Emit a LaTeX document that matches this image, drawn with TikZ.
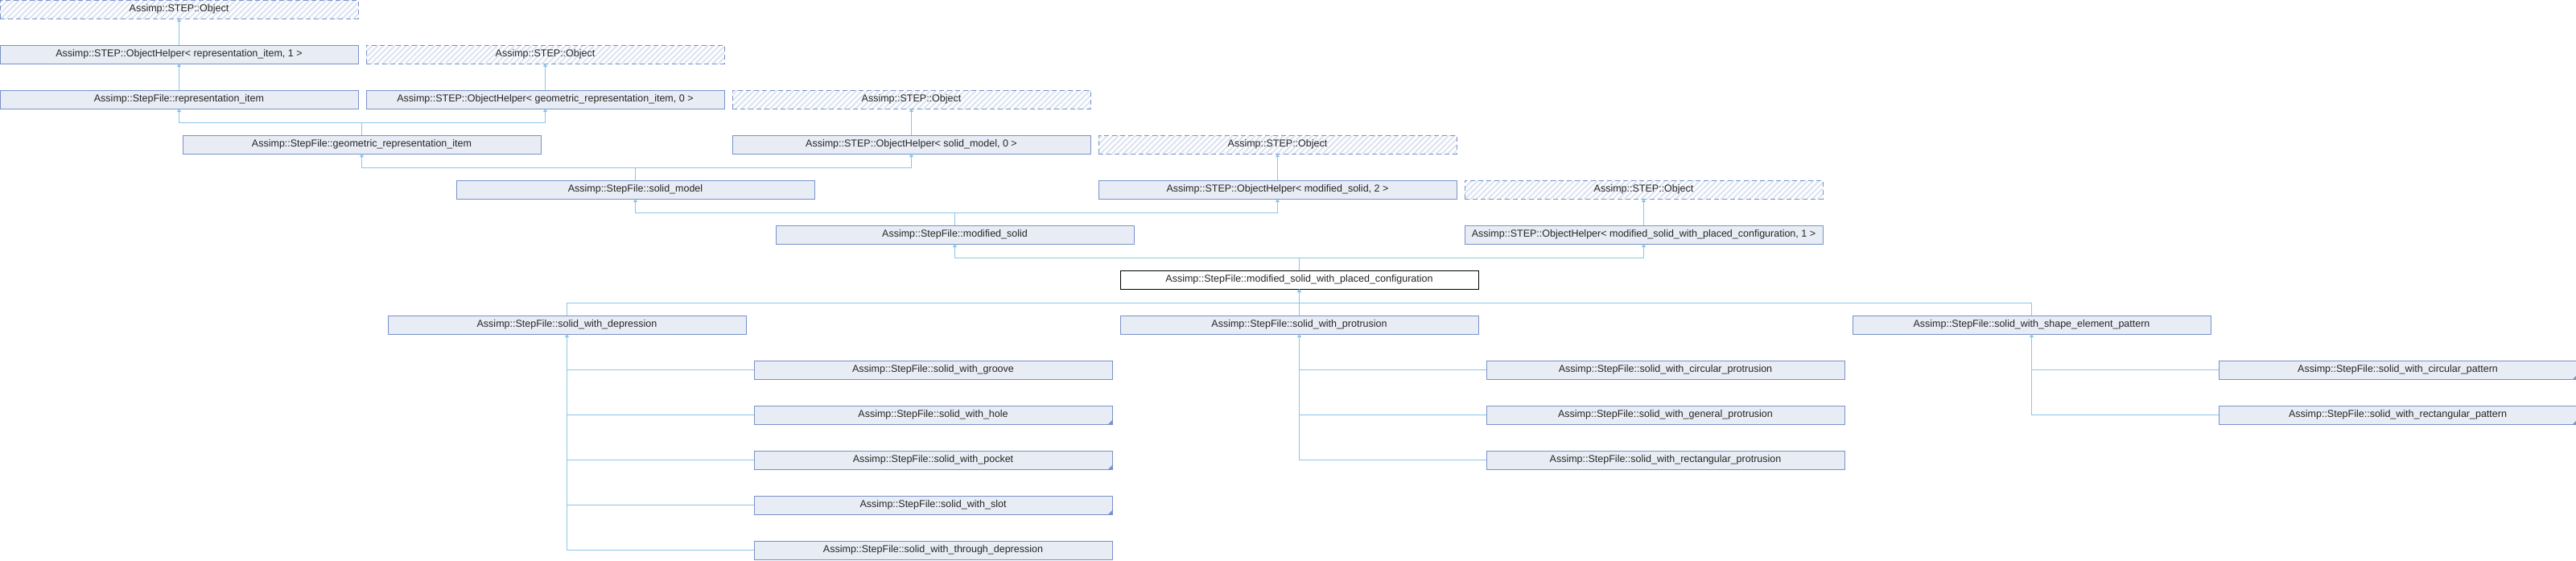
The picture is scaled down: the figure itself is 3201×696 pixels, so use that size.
\documentclass[tikz,border=0pt]{standalone}
\usepackage{fontspec}
\setmainfont{Liberation Sans}
\usetikzlibrary{arrows.meta,patterns.meta}
\definecolor{fillc}{RGB}{232,236,244}
\definecolor{bordc}{RGB}{122,146,202}
\definecolor{linec}{RGB}{140,198,232}
\definecolor{hatchc}{RGB}{222,228,241}
\newcommand\dfont{\fontsize{12.5}{14}\selectfont}
\tikzset{
  cls/.style={draw=bordc, fill=fillc, line width=1pt, minimum width=445pt, minimum height=23pt,
    inner sep=0pt, outer sep=0pt, anchor=north west, font=\dfont, text=black!85},
  mainbox/.style={cls, draw=black, fill=white},
  extbox/.style={draw=bordc, line width=1pt, minimum width=445pt, minimum height=23pt,
    inner sep=0pt, outer sep=0pt, anchor=north west, font=\dfont, text=black!85,
    dash pattern=on 6pt off 4pt,
    pattern={Lines[angle=45,distance=5pt,line width=2.2pt]}, pattern color=hatchc},
  conn/.style={draw=linec, line width=1pt},
  edge/.style={conn, {Triangle[width=5pt,length=4pt]}-},
  more/.style={fill=bordc}
}
\begin{document}
\begin{tikzpicture}[x=1pt,y=-1pt]
\useasboundingbox (0,0) rectangle (3201,696);
% rows
\node[extbox] (obj1) at (0,0) {Assimp::STEP::Object};
\node[cls] (ohrep) at (0,56) {Assimp::STEP::ObjectHelper< representation\_item, 1 >};
\node[extbox] (obj2) at (455,56) {Assimp::STEP::Object};
\node[cls] (rep) at (0,112) {Assimp::StepFile::representation\_item};
\node[cls] (ohgeo) at (455,112) {Assimp::STEP::ObjectHelper< geometric\_representation\_item, 0 >};
\node[extbox] (obj3) at (910,112) {Assimp::STEP::Object};
\node[cls] (geo) at (227,168) {Assimp::StepFile::geometric\_representation\_item};
\node[cls] (ohsm) at (910,168) {Assimp::STEP::ObjectHelper< solid\_model, 0 >};
\node[extbox] (obj4) at (1365,168) {Assimp::STEP::Object};
\node[cls] (sm) at (567,224) {Assimp::StepFile::solid\_model};
\node[cls] (ohms) at (1365,224) {Assimp::STEP::ObjectHelper< modified\_solid, 2 >};
\node[extbox] (obj5) at (1820,224) {Assimp::STEP::Object};
\node[cls] (ms) at (964,280) {Assimp::StepFile::modified\_solid};
\node[cls] (ohpc) at (1820,280) {Assimp::STEP::ObjectHelper< modified\_solid\_with\_placed\_configuration, 1 >};
\node[mainbox] (pc) at (1392,336) {Assimp::StepFile::modified\_solid\_with\_placed\_configuration};
\node[cls] (dep) at (482,392) {Assimp::StepFile::solid\_with\_depression};
\node[cls] (pro) at (1392,392) {Assimp::StepFile::solid\_with\_protrusion};
\node[cls] (pat) at (2302,392) {Assimp::StepFile::solid\_with\_shape\_element\_pattern};
\node[cls] (groove) at (937,448) {Assimp::StepFile::solid\_with\_groove};
\node[cls] (hole) at (937,504) {Assimp::StepFile::solid\_with\_hole};
\node[cls] (pocket) at (937,560) {Assimp::StepFile::solid\_with\_pocket};
\node[cls] (slot) at (937,616) {Assimp::StepFile::solid\_with\_slot};
\node[cls] (through) at (937,672) {Assimp::StepFile::solid\_with\_through\_depression};
\node[cls] (circpro) at (1847,448) {Assimp::StepFile::solid\_with\_circular\_protrusion};
\node[cls] (genpro) at (1847,504) {Assimp::StepFile::solid\_with\_general\_protrusion};
\node[cls] (rectpro) at (1847,560) {Assimp::StepFile::solid\_with\_rectangular\_protrusion};
\node[cls] (circpat) at (2757,448) {Assimp::StepFile::solid\_with\_circular\_pattern};
\node[cls] (rectpat) at (2757,504) {Assimp::StepFile::solid\_with\_rectangular\_pattern};
% corner marks
\foreach \n in {hole,pocket,slot,circpat,rectpat}
  \fill[more] (\n.south east) -- ++(-5,0) -- ++(5,-5) -- cycle;
% single-parent edges
\draw[edge] (obj1.south) -- (ohrep.north);
\draw[edge] (ohrep.south) -- (rep.north);
\draw[edge] (obj2.south) -- (ohgeo.north);
\draw[edge] (obj3.south) -- (ohsm.north);
\draw[edge] (obj4.south) -- (ohms.north);
\draw[edge] (obj5.south) -- (ohpc.north);
% multi-parent edges
\draw[edge] (rep.south) -- (rep.south |- 0,152) -| (geo.north);
\draw[edge] (ohgeo.south) -- (ohgeo.south |- 0,152) -| (geo.north);
\draw[edge] (geo.south) -- (geo.south |- 0,208) -| (sm.north);
\draw[edge] (ohsm.south) -- (ohsm.south |- 0,208) -| (sm.north);
\draw[edge] (sm.south) -- (sm.south |- 0,264) -| (ms.north);
\draw[edge] (ohms.south) -- (ohms.south |- 0,264) -| (ms.north);
\draw[edge] (ms.south) -- (ms.south |- 0,320) -| (pc.north);
\draw[edge] (ohpc.south) -- (ohpc.south |- 0,320) -| (pc.north);
% children of placed configuration
\draw[edge] (pc.south) -- (pc.south |- 0,376) -| (dep.north);
\draw[edge] (pc.south) -- (pro.north);
\draw[edge] (pc.south) -- (pc.south |- 0,376) -| (pat.north);
% depression children
\draw[edge] (dep.south) |- (through.west);
\foreach \n in {groove,hole,pocket,slot}
  \draw[conn] (dep.south |- \n.west) -- (\n.west);
% protrusion children
\draw[edge] (pro.south) |- (rectpro.west);
\foreach \n in {circpro,genpro}
  \draw[conn] (pro.south |- \n.west) -- (\n.west);
% pattern children
\draw[edge] (pat.south) |- (rectpat.west);
\draw[conn] (pat.south |- circpat.west) -- (circpat.west);
\end{tikzpicture}
\end{document}
